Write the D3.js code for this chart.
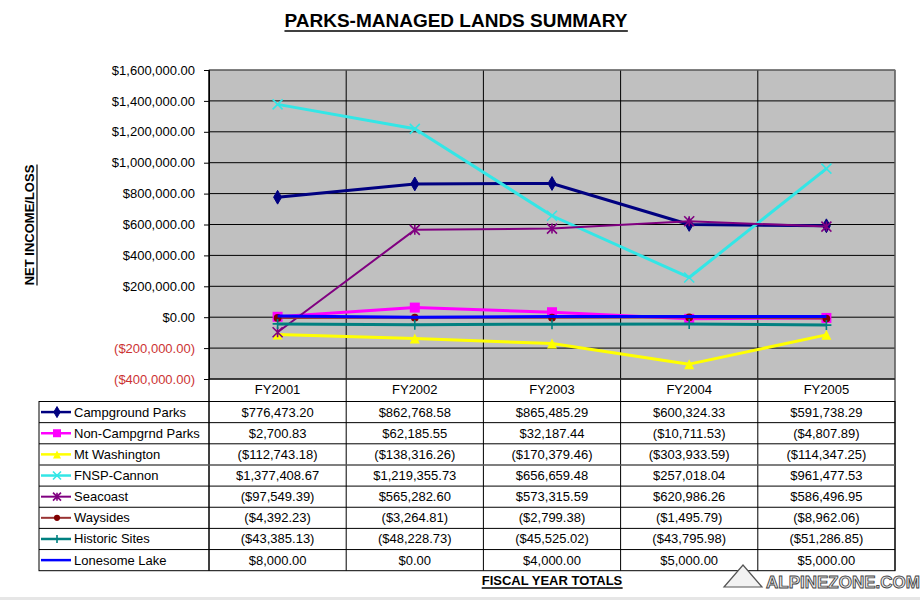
<!DOCTYPE html>
<html>
<head>
<meta charset="utf-8">
<script src="https://cdn.jsdelivr.net/npm/d3@7"></script>
<style>
  html, body { margin: 0; padding: 0; background: #ffffff; }
  svg { display: block; }
  text { font-family: Arial, "Liberation Sans", sans-serif; }
</style>
</head>
<body>
<svg id="chart" width="920" height="600"></svg>
<script>
// ---------- DATA ----------
const categories = ["FY2001", "FY2002", "FY2003", "FY2004", "FY2005"];
const seriesNames = ["Campground Parks", "Non-Campgrnd Parks", "Mt Washington", "FNSP-Cannon",
                     "Seacoast", "Waysides", "Historic Sites", "Lonesome Lake"];
const campgroundParks = [776473.20, 862768.58, 865485.29, 600324.33, 591738.29];
const nonCampgrndParks = [2700.83, 62185.55, 32187.44, -10711.53, -4807.89];
const mtWashington = [-112743.18, -138316.26, -170379.46, -303933.59, -114347.25];
const fnspCannon = [1377408.67, 1219355.73, 656659.48, 257018.04, 961477.53];
const seacoast = [-97549.39, 565282.60, 573315.59, 620986.26, 586496.95];
const waysides = [-4392.23, -3264.81, -2799.38, -1495.79, -8962.06];
const historicSites = [-43385.13, -48228.73, -45525.02, -43795.98, -51286.85];
const lonesomeLake = [8000.00, 0.00, 4000.00, 5000.00, 5000.00];
const yTicks = [1600000, 1400000, 1200000, 1000000, 800000, 600000, 400000, 200000, 0, -200000, -400000];

const seriesValues = [campgroundParks, nonCampgrndParks, mtWashington, fnspCannon,
                      seacoast, waysides, historicSites, lonesomeLake];

// ---------- STYLE ----------
const styles = [
  { color: "#000080", marker: "diamond", width: 3 },
  { color: "#ff00ff", marker: "square", width: 3 },
  { color: "#ffff00", marker: "triangle", width: 3 },
  { color: "#33e6e6", marker: "x", width: 3 },
  { color: "#800080", marker: "asterisk", width: 2 },
  { color: "#993333", marker: "circle", width: 2, mColor: "#800000" },
  { color: "#008080", marker: "plus", width: 3 },
  { color: "#0000ff", marker: "none", width: 3 }
];

const svg = d3.select("#chart");
const plotL = 209, plotR = 895, plotT = 70, plotB = 379;
const tableL = 39, tableT = 401.5, rowH = 21.15;

const x = d3.scaleBand().domain(categories).range([plotL, plotR]).padding(0);
const y = d3.scaleLinear().domain([-400000, 1600000]).range([plotB, plotT]);

const fmt = d3.format("$,.2f");
const money = v => v < 0 ? "(" + fmt(-v) + ")" : fmt(v);

// Title
const title = svg.append("text").attr("x", 456).attr("y", 27)
  .attr("text-anchor", "middle").attr("font-size", 19).attr("font-weight", "bold")
  .text("PARKS-MANAGED LANDS SUMMARY");
const tb = title.node().getBBox();
svg.append("line").attr("x1", tb.x).attr("x2", tb.x + tb.width)
  .attr("y1", 31).attr("y2", 31).attr("stroke", "#000").attr("stroke-width", 1.6);

// Y axis title
const yt = svg.append("text").attr("transform", "translate(34,225) rotate(-90)")
  .attr("text-anchor", "middle").attr("font-size", 13).attr("font-weight", "bold")
  .text("NET INCOME/LOSS");
const ytb = yt.node().getBBox();
svg.append("line").attr("x1", 37).attr("x2", 37)
  .attr("y1", 225 - ytb.width / 2).attr("y2", 225 + ytb.width / 2)
  .attr("stroke", "#000").attr("stroke-width", 1.2);

// Plot background
svg.append("rect").attr("x", plotL).attr("y", plotT)
  .attr("width", plotR - plotL).attr("height", plotB - plotT).attr("fill", "#c0c0c0");

// Horizontal gridlines
svg.append("g").selectAll("line").data(yTicks).join("line")
  .attr("x1", plotL).attr("x2", plotR)
  .attr("y1", d => y(d)).attr("y2", d => y(d))
  .attr("stroke", "#000").attr("stroke-width", 1);

// Vertical category boundaries (through plot and table)
const tableB = tableT + rowH * seriesNames.length;
const bounds = categories.map(c => x(c)).concat([plotR]);
svg.append("g").selectAll("line").data(bounds).join("line")
  .attr("x1", d => d).attr("x2", d => d)
  .attr("y1", plotT).attr("y2", tableB)
  .attr("stroke", "#000").attr("stroke-width", 1);

// Plot border
svg.append("rect").attr("x", plotL).attr("y", plotT)
  .attr("width", plotR - plotL).attr("height", plotB - plotT)
  .attr("fill", "none").attr("stroke", "#808080").attr("stroke-width", 1);
svg.append("line").attr("x1", plotL).attr("x2", plotR).attr("y1", plotB).attr("y2", plotB)
  .attr("stroke", "#000");
svg.append("line").attr("x1", plotL).attr("x2", plotL).attr("y1", plotT).attr("y2", tableB)
  .attr("stroke", "#000");

// Y axis
const yAxis = svg.append("g").attr("transform", `translate(${plotL},0)`)
  .call(d3.axisLeft(y).tickValues(yTicks).tickSize(5).tickPadding(9).tickFormat(money));
yAxis.select(".domain").attr("stroke", "#000");
yAxis.selectAll(".tick line").attr("stroke", "#000");
yAxis.selectAll(".tick text")
  .attr("font-size", 13).attr("font-family", "Arial, 'Liberation Sans', sans-serif")
  .attr("fill", d => d < 0 ? "#cc3333" : "#000");

// Category labels
svg.append("g").selectAll("text").data(categories).join("text")
  .attr("x", d => x(d) + x.bandwidth() / 2).attr("y", 394)
  .attr("text-anchor", "middle").attr("font-size", 13).text(d => d);

// Marker drawing
function drawMarker(g, type, color, size) {
  const s = size;
  if (type === "diamond") {
    g.append("path").attr("d", d3.symbol(d3.symbolDiamond, s * s * 0.55)())
      .attr("fill", color).attr("stroke", color);
  } else if (type === "square") {
    g.append("rect").attr("x", -s / 2).attr("y", -s / 2).attr("width", s).attr("height", s)
      .attr("fill", color);
  } else if (type === "triangle") {
    g.append("path").attr("d", `M0,${-s / 2}L${s / 2},${s / 2}L${-s / 2},${s / 2}Z`)
      .attr("fill", color);
  } else if (type === "x") {
    g.append("path").attr("d", `M${-s / 2},${-s / 2}L${s / 2},${s / 2}M${s / 2},${-s / 2}L${-s / 2},${s / 2}`)
      .attr("stroke", color).attr("stroke-width", 1.6).attr("fill", "none");
  } else if (type === "asterisk") {
    g.append("path").attr("d", `M${-s / 2},${-s / 2}L${s / 2},${s / 2}M${s / 2},${-s / 2}L${-s / 2},${s / 2}M0,${-s / 2}L0,${s / 2}`)
      .attr("stroke", color).attr("stroke-width", 1.6).attr("fill", "none");
  } else if (type === "circle") {
    g.append("circle").attr("r", s / 2.6).attr("fill", color);
  } else if (type === "plus") {
    g.append("path").attr("d", `M${-s / 2},0L${s / 2},0M0,${-s / 2}L0,${s / 2}`)
      .attr("stroke", color).attr("stroke-width", 1.6).attr("fill", "none");
  }
}

// Series lines and markers
const line = d3.line().x((d, i) => x(categories[i]) + x.bandwidth() / 2).y(d => y(d));
seriesValues.forEach((vals, si) => {
  const st = styles[si];
  const g = svg.append("g");
  g.append("path").attr("d", line(vals)).attr("fill", "none")
    .attr("stroke", st.color).attr("stroke-width", st.width).attr("stroke-linejoin", "round");
  vals.forEach((v, i) => {
    const mg = g.append("g").attr("transform",
      `translate(${x(categories[i]) + x.bandwidth() / 2},${y(v)})`);
    drawMarker(mg, st.marker, st.mColor || st.color, 10);
  });
});

// Data table
const table = svg.append("g");
table.append("rect").attr("x", tableL).attr("y", tableT)
  .attr("width", plotR - tableL).attr("height", tableB - tableT)
  .attr("fill", "none").attr("stroke", "#000").attr("stroke-width", 1);
table.selectAll("line.row").data(d3.range(1, seriesNames.length)).join("line")
  .attr("x1", tableL).attr("x2", plotR)
  .attr("y1", d => tableT + d * rowH).attr("y2", d => tableT + d * rowH)
  .attr("stroke", d => d === 3 ? "#555" : "#000").attr("stroke-width", d => d === 3 ? 1.6 : 1);

seriesNames.forEach((name, si) => {
  const st = styles[si];
  const cy = tableT + si * rowH + rowH / 2;
  table.append("line").attr("x1", 41).attr("x2", 71).attr("y1", cy).attr("y2", cy)
    .attr("stroke", st.color).attr("stroke-width", st.width === 2 ? 2 : 2.5);
  const mg = table.append("g").attr("transform", `translate(57,${cy})`);
  drawMarker(mg, st.marker, st.mColor || st.color, 8);
  table.append("text").attr("x", 74).attr("y", cy + 4.5).attr("font-size", 13).text(name);
  seriesValues[si].forEach((v, i) => {
    table.append("text").attr("x", x(categories[i]) + x.bandwidth() / 2).attr("y", cy + 4.5)
      .attr("text-anchor", "middle").attr("font-size", 13).text(money(v));
  });
});

// X axis title
const xt = svg.append("text").attr("x", 552).attr("y", 585)
  .attr("text-anchor", "middle").attr("font-size", 13).attr("font-weight", "bold")
  .text("FISCAL YEAR TOTALS");
const xtb = xt.node().getBBox();
svg.append("line").attr("x1", xtb.x).attr("x2", xtb.x + xtb.width)
  .attr("y1", 588).attr("y2", 588).attr("stroke", "#000").attr("stroke-width", 1.5);

// Watermark
const wm = svg.append("g");
wm.append("path").attr("d", "M724,587 L743,565 L762,587 Z")
  .attr("fill", "#f2f2f2").attr("stroke", "#555").attr("stroke-width", 1.2);
wm.append("text").attr("x", 766).attr("y", 588).attr("font-size", 17).attr("font-weight", "bold")
  .attr("fill", "#eeeeee").attr("stroke", "#444").attr("stroke-width", 0.9)
  .text("ALPINEZONE.COM");

// Bottom light strip
svg.append("rect").attr("x", 0).attr("y", 597).attr("width", 920).attr("height", 3).attr("fill", "#e6e6e6");
</script>
</body>
</html>
